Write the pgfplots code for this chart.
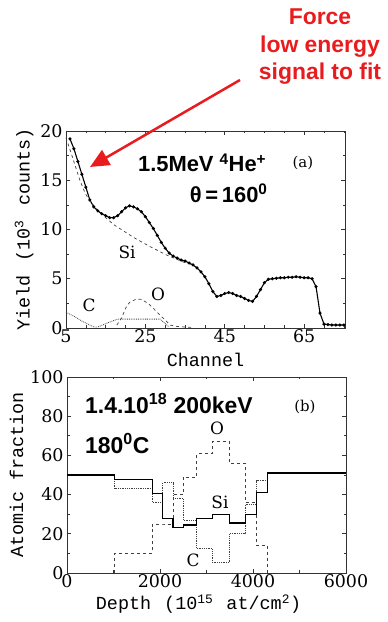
\documentclass[border=0pt]{standalone}
\usepackage{fontspec}
\setmainfont{DejaVu Serif}
\newfontfamily\monof{Liberation Mono}
\newfontfamily\sansf{Liberation Sans}
\usepackage{pgfplots}
\pgfplotsset{compat=1.18}
\usetikzlibrary{arrows.meta}
\definecolor{fred}{RGB}{232,28,30}
\begin{document}
\begin{tikzpicture}[x=1bp,y=1bp]
\useasboundingbox (0,0) rectangle (387,622);
\pgfplotsset{
  myax/.style={
    anchor=south west, scale only axis, clip=false,
    tick align=inside, xtick pos=both, ytick pos=both,
    /pgf/number format/assume math mode=true,
    /pgf/number format/1000 sep={},
    tick label style={font=\fontsize{17.5}{19}\selectfont},
    xticklabel style={inner sep=1.5bp},
    label style={font=\monof\fontsize{18.5}{20}\selectfont},
    axis line style={black!80, line width=0.8bp},
    major tick length=4bp, minor tick length=2.5bp,
    every tick/.style={black!80, line width=0.6bp},
  }
}
% ---------- top panel (a) ----------
\begin{axis}[myax, at={(66bp,294bp)}, width=279bp, height=197bp,
  xmin=5, xmax=75.3, ymin=0, ymax=20,
  xtick={5,25,45,65}, minor xtick={10,15,20,30,35,40,50,55,60,70,75},
  ytick={0,5,10,15,20}, minor ytick={2.5,7.5,12.5,17.5},
  xlabel={Channel}, ylabel={Yield \hspace{3bp}(10\textsuperscript{3} \hspace{3bp}counts)},
  xlabel style={yshift=-5bp}, ylabel style={yshift=0bp}]
\addplot[black, line width=1.1bp, mark=*, mark size=0.95bp] coordinates {
(6,19.2)(7,18.2)(8,16.9)(9,15.6)(10,14.3)(11,13.0)(12,12.3)(13,11.9)(14,11.6)
(15,11.4)(16,11.2)(17,11.2)(18,11.4)(19,11.8)(20,12.2)(21,12.4)(22,12.3)(23,12.1)
(24,11.8)(25,11.3)(26,10.7)(27,10.1)(28,9.4)(29,8.7)(30,8.1)(31,7.6)(32,7.3)
(33,7.1)(34,6.9)(35,6.8)(36,6.6)(37,6.4)(38,6.1)(39,5.7)(40,5.2)(41,4.5)(42,3.7)
(43,3.2)(44,3.3)(45,3.5)(46,3.6)(47,3.5)(48,3.3)(49,3.2)(50,3.0)(51,2.8)(52,2.7)
(53,3.2)(54,3.9)(55,4.6)(56,4.95)(57,5.0)(58,5.05)(59,5.1)(60,5.1)(61,5.15)
(62,5.15)(63,5.2)(64,5.15)(65,5.1)(66,5.1)(67,5.0)(68,4.2)(69,1.5)(70,0.4)
(71,0.35)(72,0.3)(73,0.3)(74,0.3)(75,0.3)};
\addplot[black!75, dashed, line width=0.7bp] coordinates {
(5,19.3)(6.5,17.5)(8.5,15.0)(9.8,13.7)(11,12.9)(13.6,11.7)(17,10.5)(22,9.2)
(26,8.3)(30.4,7.4)(34.5,6.7)(37,6.4)};
\addplot[black!75, dashed, line width=0.7bp] coordinates {
(17.8,0.3)(19,1.0)(20,2.0)(21,2.6)(22.8,2.95)(24,2.9)(25.7,2.5)(27,2.0)(28.7,1.3)
(30,0.8)(31.2,0.3)(33,0.15)(35,0.1)(37,0.05)};
\addplot[black!75, densely dotted, line width=0.8bp] coordinates {
(5,1.6)(7,1.2)(9,0.7)(10.5,0.4)(12,0.1)(13,0.1)(14.5,0.35)(16,0.6)(18,0.9)
(22,0.9)(26,0.9)(28.7,0.9)(31,0.1)};
\node[font=\fontsize{17}{18}\selectfont] at (axis cs:20.4,7.7) {Si};
\node[font=\fontsize{17}{18}\selectfont] at (axis cs:10.8,2.3) {C};
\node[font=\fontsize{17}{18}\selectfont] at (axis cs:28.2,3.4) {O};
\node[font=\fontsize{15}{17}\selectfont] at (axis cs:64.7,16.75) {(a)};
\node[font=\sansf\bfseries\fontsize{22}{24}\selectfont] at (axis cs:39.3,16.75)
  {1.5MeV \textsuperscript{4}He\textsuperscript{+}};
\node[font=\sansf\bfseries\fontsize{22}{24}\selectfont] at (axis cs:46.0,13.7)
  {θ\,=\,160\textsuperscript{0}};
\end{axis}
% ---------- bottom panel (b) ----------
\begin{axis}[myax, at={(67bp,49bp)}, width=279bp, height=196bp,
  xmin=0, xmax=6000, ymin=0, ymax=100,
  xtick={0,2000,4000,6000}, minor xtick={1000,3000,5000},
  ytick={0,20,40,60,80,100}, minor ytick={10,30,50,70,90},
  scaled x ticks=false,
  xlabel={Depth \hspace{2bp}(10\textsuperscript{15} \hspace{2bp}at/cm\textsuperscript{2})},
  ylabel={Atomic fraction},
  xlabel style={yshift=-2bp, xshift=-8bp}, ylabel style={yshift=0bp}]
\addplot[black!75, densely dotted, line width=0.8bp, const plot mark left] coordinates {
(0,50)(1030,43)(1830,36)(2060,46)(2280,38)(2500,27)(2790,12.5)(3120,5.5)
(3500,20)(3830,35)(4080,47)(4320,51)(6000,51)};
\addplot[black!75, dashed, line width=0.8bp, const plot mark left] coordinates {
(1030,0)(1030,10)(1830,25)(2060,25)(2280,40)(2500,49)(2790,61)(3120,67)
(3500,56)(3830,36)(4080,14)(4320,0)};
\addplot[black, line width=1.1bp, const plot mark left] coordinates {
(0,50)(1030,47.5)(1830,40.5)(2060,28)(2280,23)(2500,24.5)(2790,28)(3120,30)
(3500,25.5)(3830,30)(4080,41)(4320,51)(6000,51)};
\node[font=\fontsize{17}{18}\selectfont] at (axis cs:3290,36) {Si};
\node[font=\fontsize{17}{18}\selectfont] at (axis cs:2710,6.6) {C};
\node[font=\fontsize{17}{18}\selectfont] at (axis cs:3225,74) {O};
\node[font=\fontsize{15}{17}\selectfont] at (axis cs:5117,84.7) {(b)};
\node[anchor=west, inner sep=0pt, font=\sansf\bfseries\fontsize{23}{25}\selectfont]
  at (axis cs:387,86.7) {1.4.10\textsuperscript{18} 200keV};
\node[anchor=west, inner sep=0pt, font=\sansf\bfseries\fontsize{23}{25}\selectfont]
  at (axis cs:387,66.3) {180\textsuperscript{0}C};
\end{axis}
% ---------- annotation ----------
\node[fred, font=\sansf\bfseries\fontsize{23}{27.5}\selectfont, align=center,
  anchor=north, inner sep=0pt] at (320,613) {Force\\low energy\\signal to fit};
\draw[fred, line width=2.5bp, -{Triangle[length=19bp,width=17bp]}] (240,542) -- (90,455);
\end{tikzpicture}
\end{document}
